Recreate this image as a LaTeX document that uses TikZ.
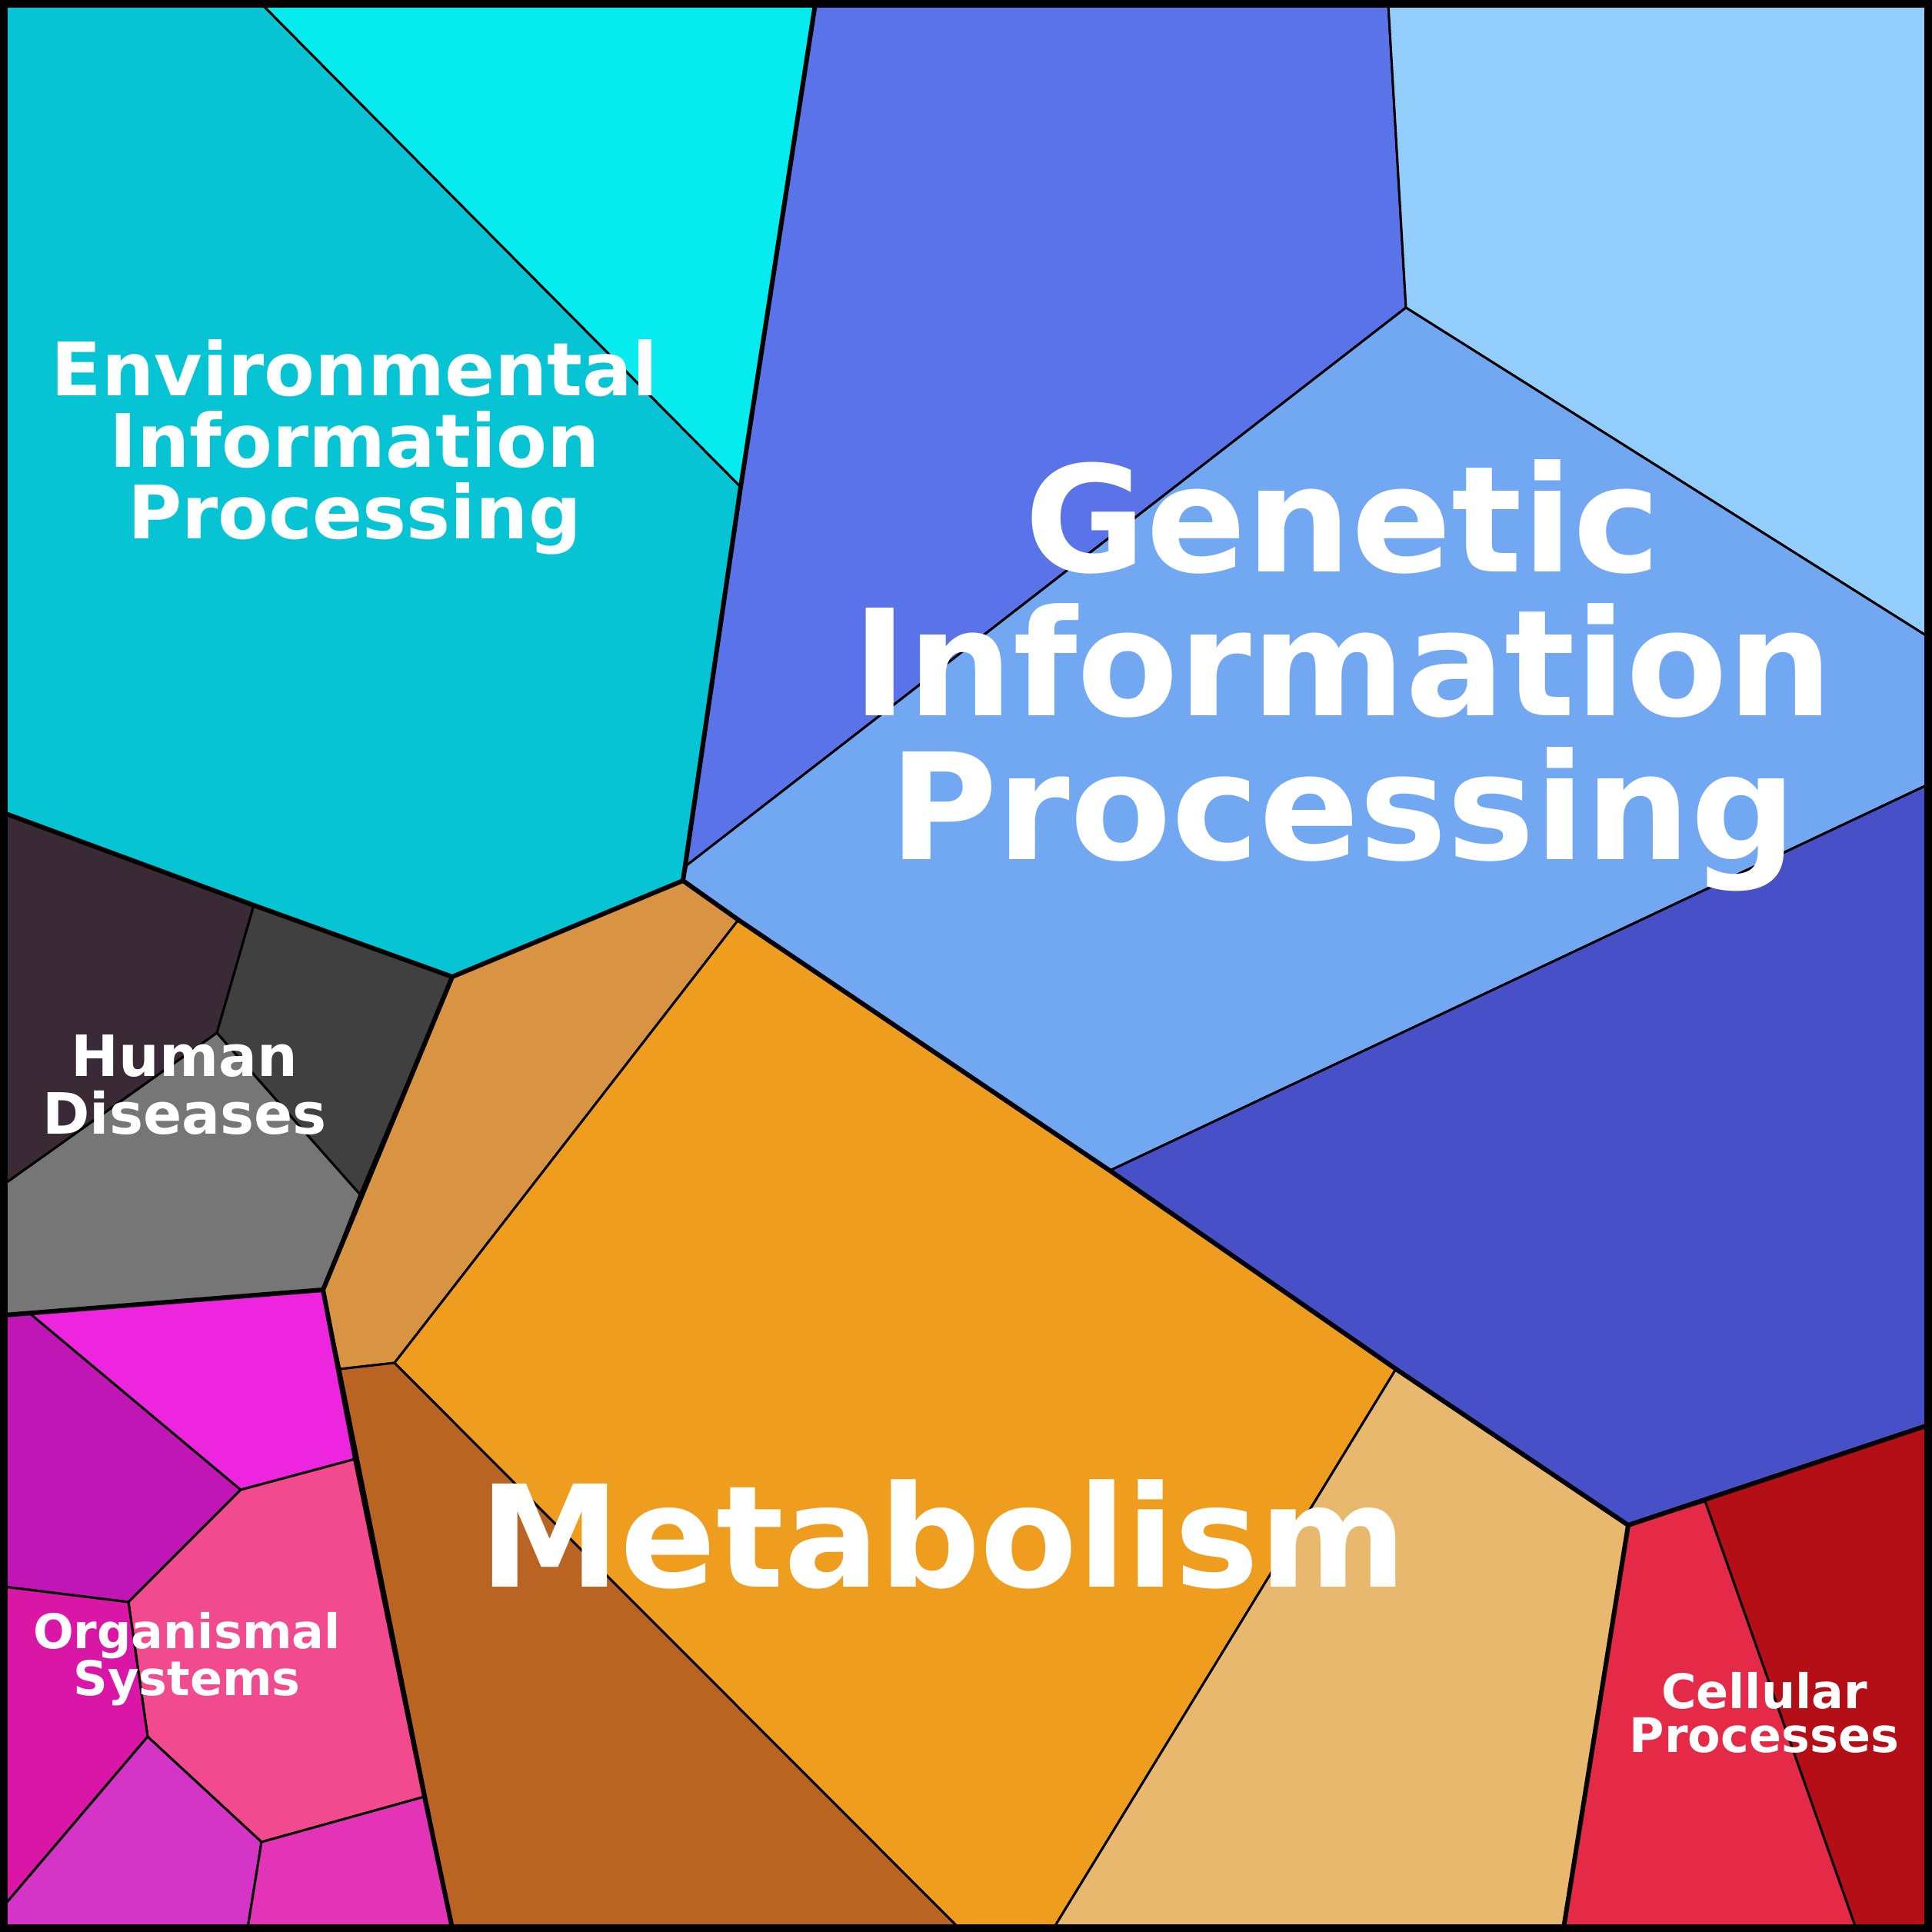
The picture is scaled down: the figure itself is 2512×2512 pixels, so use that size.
\documentclass[tikz,border=0pt]{standalone}
\usepackage{fontspec}
\setmainfont{DejaVu Sans}
\begin{document}
\begin{tikzpicture}[x=1pt,y=-1pt,
 thin/.style={draw=black,line width=3pt,line join=round},
 thick/.style={draw=black,line width=6pt,line join=round},
 lbl/.style={text=white,align=center,font=\bfseries,inner sep=0pt,anchor=base}]
\definecolor{c1}{HTML}{06EBEE}\definecolor{c2}{HTML}{06C4D4}
\definecolor{c3}{HTML}{5A73E8}\definecolor{c4}{HTML}{93CDFC}
\definecolor{c5}{HTML}{72A8F2}\definecolor{c6}{HTML}{4850C8}
\definecolor{c7}{HTML}{E52A48}\definecolor{c8}{HTML}{B40F16}
\definecolor{c9}{HTML}{D99443}\definecolor{c10}{HTML}{B96422}
\definecolor{c11}{HTML}{EE9D1E}\definecolor{c12}{HTML}{E8B86E}
\definecolor{c13}{HTML}{3A2A36}\definecolor{c14}{HTML}{404040}
\definecolor{c15}{HTML}{767676}\definecolor{c16}{HTML}{BF16B5}
\definecolor{c17}{HTML}{EE25DE}\definecolor{c18}{HTML}{F24A8E}
\definecolor{c19}{HTML}{DA16A6}\definecolor{c20}{HTML}{D435C6}
\definecolor{c21}{HTML}{E333B6}
\useasboundingbox (0,0) rectangle (2512,2512);
\fill[white] (0,0) rectangle (2512,2512);
% Environmental
\filldraw[fill=c2,thin] (5,5)--(340,5)--(963,633)--(888,1145)--(588,1270)--(330,1177)--(5,1057)--cycle;
\filldraw[fill=c1,thin] (340,5)--(1060,5)--(963,633)--cycle;
% Genetic
\filldraw[fill=c3,thin] (1060,5)--(1805,5)--(1828,400)--(893,1125)--(888,1145)--(963,633)--cycle;
\filldraw[fill=c4,thin] (1805,5)--(2507,5)--(2507,828)--(1828,400)--cycle;
\filldraw[fill=c5,thin] (893,1125)--(1828,400)--(2507,828)--(2507,1020)--(1443,1522)--(960,1196)--(888,1145)--cycle;
\filldraw[fill=c6,thin] (2507,1020)--(1443,1522)--(1815,1780)--(2117,1983)--(2507,1853)--cycle;
% Cellular
\filldraw[fill=c8,thin] (2117,1983)--(2217,1952)--(2413,2507)--(2507,2507)--(2507,1853)--cycle;
\filldraw[fill=c7,thin] (2117,1983)--(2217,1952)--(2413,2507)--(2033,2507)--cycle;
% Metabolism
\filldraw[fill=c9,thin] (888,1145)--(960,1196)--(513,1772)--(442,1780)--(420,1677)--(588,1270)--cycle;
\filldraw[fill=c10,thin] (442,1780)--(513,1772)--(1247,2507)--(588,2507)--cycle;
\filldraw[fill=c11,thin] (960,1196)--(1443,1522)--(1815,1780)--(1370,2507)--(1247,2507)--(513,1772)--cycle;
\filldraw[fill=c12,thin] (1815,1780)--(2117,1983)--(2033,2507)--(1370,2507)--cycle;
% Human
\filldraw[fill=c13,thin] (5,1057)--(330,1177)--(282,1343)--(5,1540)--cycle;
\filldraw[fill=c14,thin] (330,1177)--(588,1270)--(468,1553)--(282,1343)--cycle;
\filldraw[fill=c15,thin] (5,1540)--(282,1343)--(468,1553)--(420,1677)--(5,1710)--cycle;
% Organismal
\filldraw[fill=c16,thin] (5,1710)--(38,1707)--(313,1937)--(167,2083)--(5,2063)--cycle;
\filldraw[fill=c17,thin] (38,1707)--(420,1677)--(462,1897)--(313,1937)--cycle;
\filldraw[fill=c18,thin] (313,1937)--(462,1897)--(552,2336)--(340,2395)--(192,2258)--(167,2083)--cycle;
\filldraw[fill=c19,thin] (5,2063)--(167,2083)--(192,2258)--(5,2478)--cycle;
\filldraw[fill=c20,thin] (5,2478)--(192,2258)--(340,2395)--(322,2507)--(5,2507)--cycle;
\filldraw[fill=c21,thin] (340,2395)--(552,2336)--(588,2507)--(322,2507)--cycle;
% group boundaries
\draw[thick] (1060,5)--(963,633)--(888,1145)--(588,1270)--(330,1177)--(5,1057);
\draw[thick] (888,1145)--(960,1196)--(1443,1522)--(1815,1780)--(2117,1983)--(2507,1853);
\draw[thick] (2117,1983)--(2033,2507);
\draw[thick] (588,1270)--(420,1677)--(462,1897)--(552,2336)--(588,2507);
\draw[thick] (420,1677)--(5,1710);
\draw[line width=10pt] (5,5) rectangle (2507,2507);
% labels
\node[lbl,font=\bfseries\fontsize{96}{93}\selectfont] (env) at (461,700) {Environmental\\Information\\Processing};
\node[lbl,font=\bfseries\fontsize{192}{187}\selectfont] (gen) at (1746,1117) {Genetic\\Information\\Processing};
\node[lbl,font=\bfseries\fontsize{184}{184}\selectfont] (met) at (1226,2063) {Metabolism};
\node[lbl,font=\bfseries\fontsize{74}{75}\selectfont] (hum) at (240,1474) {Human\\Diseases};
\node[lbl,font=\bfseries\fontsize{62}{61}\selectfont] (org) at (243,2204) {Organismal\\Systems};
\node[lbl,font=\bfseries\fontsize{62}{57}\selectfont] (cel) at (2294,2278) {Cellular\\Processes};
\end{tikzpicture}
\end{document}
